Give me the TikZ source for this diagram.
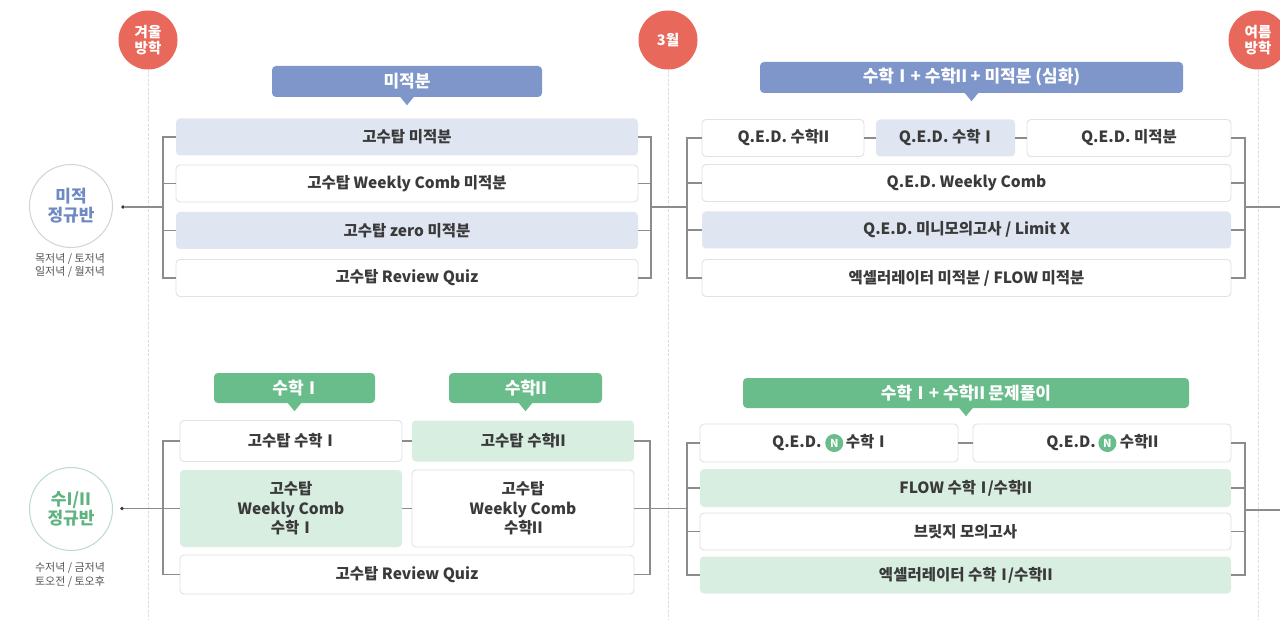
\documentclass[tikz,border=0pt]{standalone}
\usepackage{fontspec}
\setmainfont{Noto Sans CJK KR}
\usetikzlibrary{calc}
\definecolor{redc}{HTML}{E8685B}
\definecolor{hblue}{HTML}{7F96CB}
\definecolor{lblue}{HTML}{DFE5F1}
\definecolor{hgreen}{HTML}{68BD8A}
\definecolor{lgreen}{HTML}{D8EEE1}
\definecolor{bord}{HTML}{E2E2E2}
\definecolor{brc}{HTML}{8C8C8C}
\definecolor{txt}{HTML}{3A3A3A}
\definecolor{tlc}{HTML}{DDDDDD}
\definecolor{cblue}{HTML}{6F89C3}
\definecolor{cgreen}{HTML}{5FB381}
\definecolor{cring}{HTML}{D3D3D3}
\definecolor{gring}{HTML}{BBDCC7}
\definecolor{smalltxt}{HTML}{555555}
\newcommand{\ncirc}{\tikz[baseline=(nn.base)]\node[circle,fill=hgreen,text=white,inner sep=0pt,minimum size=18pt,font=\fontsize{11}{11}\selectfont\bfseries](nn){N};}
\newcommand{\RI}{\kern-0.24em Ⅰ\kern-0.24em}
\newcommand{\RII}{\kern-0.2em Ⅱ\kern-0.2em}
\tikzset{
  box/.style={rounded corners=4pt, minimum height=37pt, inner sep=0pt, font=\fontsize{15.5}{19.5}\selectfont\bfseries, text=txt, align=center},
  wbox/.style={box, draw=bord, line width=0.9pt, fill=white},
  bbox/.style={box, fill=lblue},
  gbox/.style={box, fill=lgreen},
  head/.style={rounded corners=4pt, minimum height=31pt, inner sep=0pt, font=\fontsize{17}{19}\selectfont\bfseries, text=white},
  bhead/.style={head, fill=hblue},
  ghead/.style={head, fill=hgreen},
  redcirc/.style={circle, fill=redc, minimum size=59pt, inner sep=0pt, text=white, font=\fontsize{14.5}{15.5}\selectfont\bfseries, align=center},
  classc/.style={circle, minimum size=83pt, inner sep=0pt, fill=white, line width=1pt, align=center, font=\fontsize{17}{19}\selectfont\bfseries},
  br/.style={draw=brc, line width=1.1pt},
  tline/.style={draw=tlc, line width=1pt, dash pattern=on 3pt off 1.5pt},
  small/.style={font=\fontsize{11}{13.5}\selectfont, text=smalltxt, align=center},
  dotc/.style={circle, fill=black!80, inner sep=0pt, minimum size=3.6pt}
}
\begin{document}
\begin{tikzpicture}[x=1pt,y=-1pt]
\useasboundingbox (0,0) rectangle (1280,631);
\clip (0,0) rectangle (1280,631);
\fill[white] (0,0) rectangle (1280,631);

% timeline markers
\node[redcirc] (w) at (148,40) {겨울\\방학};
\node[redcirc] (m) at (668,40) {3월};
\node[redcirc] (s) at (1258,40) {여름\\방학};
\coordinate (wE) at (148,620);
\coordinate (mE) at (668,620);
\coordinate (sE) at (1258,620);
\draw[tline] (w.south) -- (wE);
\draw[tline] (m.south) -- (mE);
\draw[tline] (s.south) -- (sE);

% class circles
\node[classc, draw=cring, text=cblue] (k1) at (71,206) {미적\\정규반};
\node[small] (l1) at (70,265.5) {목저녁 / 토저녁\\일저녁 / 월저녁};
\node[classc, draw=gring, text=cgreen] (k2) at (71,509) {수I/II\\정규반};
\node[small] (l2) at (70,575) {수저녁 / 금저녁\\토오전 / 토오후};
\node[dotc] (p1) at (123,207) {};
\node[dotc] (p2) at (122,508.5) {};

% ---------- top left
\node[bhead, minimum width=270pt] (h1) at (407,81.5) {미적분};
\fill[hblue] ($(h1.south)+(-7,-0.5)$) -- ($(h1.south)+(7,-0.5)$) -- ($(h1.south)+(0,8)$) -- cycle;
\node[bbox, minimum width=462pt] (a1) at (407,137) {고수탑 미적분};
\node[wbox, minimum width=462pt] (a2) at (407,183.5) {고수탑 Weekly Comb 미적분};
\node[bbox, minimum width=462pt] (a3) at (407,230.5) {고수탑 zero 미적분};
\node[wbox, minimum width=462pt] (a4) at (407,278) {고수탑 Review Quiz};

\coordinate (tlx) at (163,207);
\draw[br] (a1.west) -| (tlx) |- (a4.west);
\draw[br] (a2.west) -- (a2.west -| tlx);
\draw[br] (a3.west) -- (a3.west -| tlx);
\draw[br] (p1) -- (tlx);

\coordinate (trx) at (651,207);
\draw[br] (a1.east) -| (trx) |- (a4.east);
\draw[br] (a2.east) -- (a2.east -| trx);
\draw[br] (a3.east) -- (a3.east -| trx);
\coordinate (t2x) at (687,207);
\draw[br] (trx) -- (t2x);

% ---------- top right
\node[bhead, minimum width=423pt] (h2) at (971.5,77.5) {수학 \RI{} + 수학\RII{} + 미적분 (심화)};
\fill[hblue] ($(h2.south)+(-7,-0.5)$) -- ($(h2.south)+(7,-0.5)$) -- ($(h2.south)+(0,8)$) -- cycle;
\node[wbox, minimum width=162pt] (b1) at (783,138) {Q.E.D. 수학\RII};
\node[bbox, minimum width=139pt] (b2) at (945.5,138) {Q.E.D. 수학 \RI};
\node[wbox, minimum width=204pt] (b3) at (1129,138) {Q.E.D. 미적분};
\node[wbox, minimum width=529pt] (b4) at (966.5,183) {Q.E.D. Weekly Comb};
\node[bbox, minimum width=529pt] (b5) at (966.5,230) {Q.E.D. 미니모의고사 / Limit X};
\node[wbox, minimum width=529pt] (b6) at (966.5,278) {엑셀러레이터 미적분 / FLOW 미적분};
\draw[br] (b1) -- (b2);
\draw[br] (b2) -- (b3);
\draw[br] (b1.west) -| (t2x) |- (b6.west);
\draw[br] (b4.west) -- (b4.west -| t2x);
\draw[br] (b5.west) -- (b5.west -| t2x);
\coordinate (t3x) at (1245,207);
\draw[br] (b3.east) -| (t3x) |- (b6.east);
\draw[br] (b4.east) -- (b4.east -| t3x);
\draw[br] (b5.east) -- (b5.east -| t3x);
\coordinate (t3e) at (1284,207);
\draw[br] (t3x) -- (t3e);

% ---------- bottom left
\node[ghead, minimum width=161pt, minimum height=30pt] (h3) at (294.5,388) {수학 \RI};
\fill[hgreen] ($(h3.south)+(-7,-0.5)$) -- ($(h3.south)+(7,-0.5)$) -- ($(h3.south)+(0,8)$) -- cycle;
\node[ghead, minimum width=153pt, minimum height=30pt] (h4) at (525.5,388) {수학\RII};
\fill[hgreen] ($(h4.south)+(-7,-0.5)$) -- ($(h4.south)+(7,-0.5)$) -- ($(h4.south)+(0,8)$) -- cycle;
\node[wbox, minimum width=222pt, minimum height=41pt] (c1) at (291,441) {고수탑 수학 \RI};
\node[gbox, minimum width=222pt, minimum height=41pt] (c2) at (523,441) {고수탑 수학\RII};
\node[gbox, minimum width=222pt, minimum height=77pt] (c3) at (291,508.5) {고수탑\\Weekly Comb\\수학 \RI};
\node[wbox, minimum width=222pt, minimum height=77pt] (c4) at (523,508.5) {고수탑\\Weekly Comb\\수학\RII};
\node[wbox, minimum width=454pt, minimum height=39pt] (c5) at (407,574.5) {고수탑 Review Quiz};
\draw[br] (c1) -- (c2);
\draw[br] (c3) -- (c4);
\coordinate (blx) at (163,508.5);
\draw[br] (c1.west) -| (blx) |- (c5.west);
\draw[br] (p2) -- (c3.west);
\coordinate (brx) at (650,508.5);
\draw[br] (c2.east) -| (brx) |- (c5.east);
\coordinate (b2x) at (687,508.5);
\draw[br] (c4.east) -- (b2x);

% ---------- bottom right
\node[ghead, minimum width=446pt, minimum height=30pt] (h5) at (966,393) {수학 \RI{} + 수학\RII{} 문제풀이};
\fill[hgreen] ($(h5.south)+(-7,-0.5)$) -- ($(h5.south)+(7,-0.5)$) -- ($(h5.south)+(0,8)$) -- cycle;
\node[wbox, minimum width=258pt, minimum height=38pt] (d1) at (829,443) {Q.E.D. \ncirc\,수학 \RI};
\node[wbox, minimum width=258pt, minimum height=38pt] (d2) at (1102,443) {Q.E.D.\,\ncirc\ 수학\RII};
\node[gbox, minimum width=531pt, minimum height=38pt] (d3) at (965.5,488) {FLOW 수학 \RI/수학\RII};
\node[wbox, minimum width=531pt] (d4) at (965.5,531.5) {브릿지 모의고사};
\node[gbox, minimum width=531pt] (d5) at (965.5,575) {엑셀러레이터 수학 \RI/수학\RII};
\draw[br] (d1) -- (d2);
\draw[br] (d1.west) -| (b2x) |- (d5.west);
\draw[br] (d3.west) -- (d3.west -| b2x);
\draw[br] (d4.west) -- (d4.west -| b2x);
\coordinate (b3x) at (1245,510);
\draw[br] (d2.east) -| (b3x) |- (d5.east);
\draw[br] (d3.east) -- (d3.east -| b3x);
\draw[br] (d4.east) -- (d4.east -| b3x);
\coordinate (b3e) at (1284,510);
\draw[br] (b3x) -- (b3e);
\end{tikzpicture}
\end{document}
